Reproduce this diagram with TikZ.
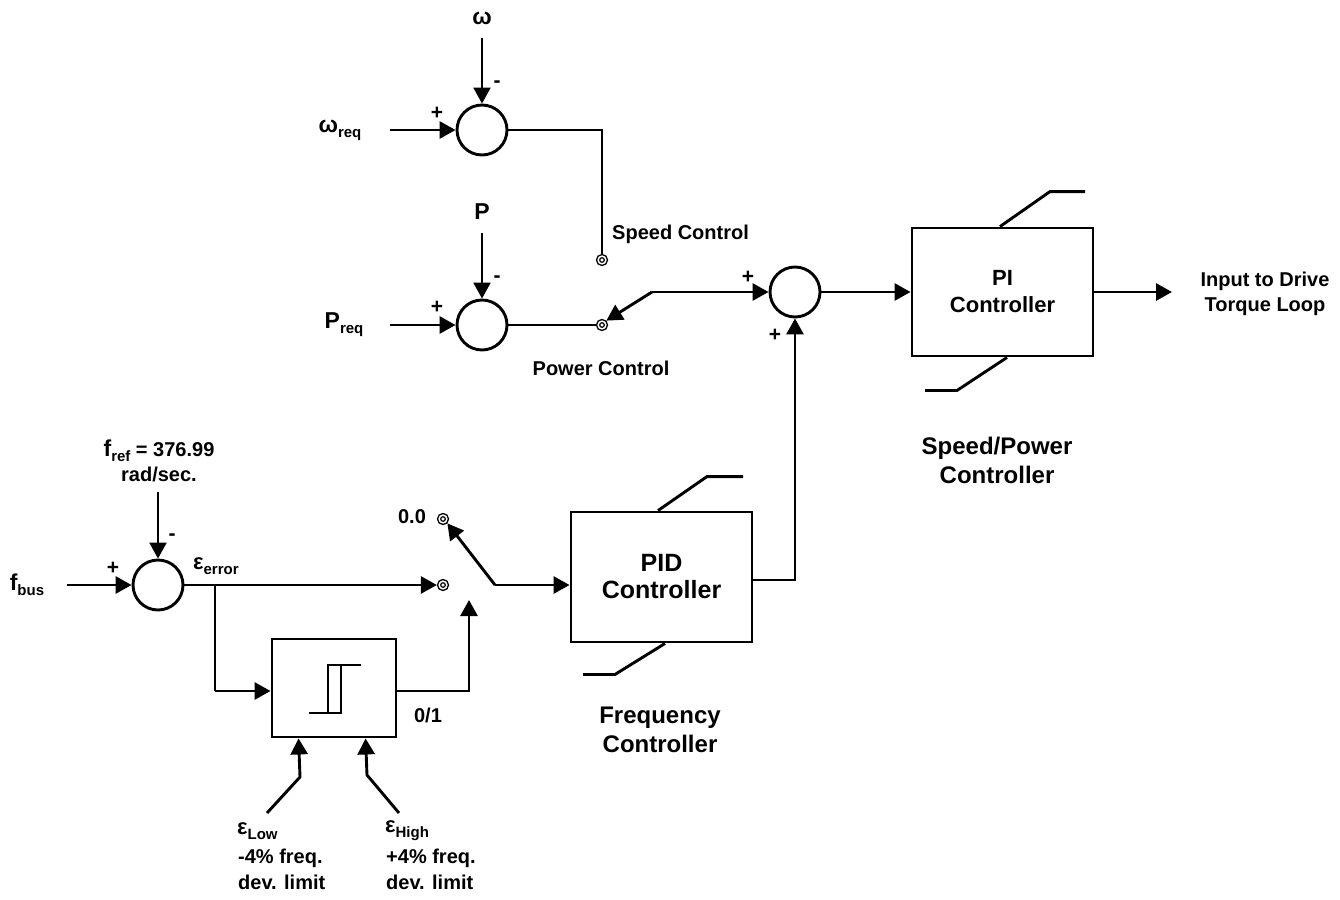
\documentclass[tikz,border=0pt]{standalone}
\usepackage{fontspec}
\setmainfont{Liberation Sans}
\usetikzlibrary{arrows.meta}
\newcommand\lowsub[1]{\raisebox{-0.45ex}{\fontsize{15}{15}\selectfont #1}}
\begin{document}
\begin{tikzpicture}[x=1pt,y=-1pt,
  sig/.style={line width=2.9pt},
  thin sig/.style={line width=2.2pt},
  arr/.style={sig,-{Triangle[length=16pt,width=17pt]}},
  tarr/.style={thin sig,-{Triangle[length=16pt,width=17pt]}},
  sumj/.style={circle,draw,line width=2.9pt,minimum size=50pt,inner sep=0pt},
  blk/.style={draw,line width=2.9pt,inner sep=0pt,font=\fontsize{24}{27}\selectfont\bfseries,align=center},
  term/.style={circle,draw,line width=1.3pt,minimum size=11pt,inner sep=0pt,
     path picture={\draw[line width=1.2pt] (path picture bounding box.center) circle (2.3pt);}},
  lbl/.style={font=\fontsize{20}{24.5}\selectfont\bfseries,inner sep=0pt},
  big/.style={font=\fontsize{24}{29}\selectfont\bfseries,align=center,inner sep=0pt},
  sign/.style={font=\fontsize{21}{21}\selectfont\bfseries,inner sep=0pt}
]
\useasboundingbox (0,0) rectangle (1340,899);

% ---------- speed loop ----------
\node[sumj] (s1) at (482,130) {};
\node[lbl,font=\fontsize{23}{24}\selectfont\bfseries] (om) at (482,18) {ω};
\coordinate (omA) at (482,38);
\node[lbl] (omreq) at (340,130) {{\fontsize{23}{24}\selectfont ω}\lowsub{req}};
\coordinate (omIn) at (390,130);
\draw[tarr] (omA) -- (s1.north);
\draw[arr] (omIn) -- (s1.west);
\node[sign] at (437,113) {+};
\node[sign] at (497,84) {-};
\node[term] (tspeed) at (602,260) {};
\draw[sig] (s1.east) -| (tspeed.north);
\node[lbl,anchor=west] (spdlbl) at (612,234) {Speed Control};

% ---------- power loop ----------
\node[sumj] (s2) at (482,325) {};
\node[lbl,font=\fontsize{23}{24}\selectfont\bfseries] (pl) at (482,212) {P};
\coordinate (pA) at (482,233);
\node[lbl] (preq) at (344,325) {{\fontsize{23}{24}\selectfont P}\lowsub{req}};
\coordinate (pIn) at (390,325);
\draw[tarr] (pA) -- (s2.north);
\draw[arr] (pIn) -- (s2.west);
\node[sign] at (437,307) {+};
\node[sign] at (497,279) {-};
\node[term] (tpower) at (602,325) {};
\draw[sig] (s2.east) -- (tpower.west);
\node[lbl] (pwrlbl) at (601,368) {Power Control};

% ---------- switch and PI ----------
\node[sumj] (s3) at (795,292) {};
\coordinate (sw1) at (652,292);
\draw[arr] (sw1) -- (tpower.north east);
\draw[arr] (sw1) -- (s3.west);
\node[sign] at (748,277) {+};
\node[sign] at (775,335) {+};
\node[blk,minimum width=181pt,minimum height=128pt] (pi) at (1002.5,292) {\fontsize{22}{27}\selectfont PI\\\fontsize{22}{27}\selectfont Controller};
\draw[sig] ([xshift=-2.5pt]pi.north) -- ++(50,-35) -- ++(35,0);
\draw[sig] ([xshift=4.5pt]pi.south) -- ++(-50,33) -- ++(-32,0);
\draw[arr] (s3.east) -- (pi.west);
\coordinate (out) at (1172,292);
\draw[arr] (pi.east) -- (out);
\node[lbl,align=center] (drv) at (1265,294) {Input to Drive\\Torque Loop};
\node[big] (splbl) at (997,460) {Speed/Power\\Controller};

% ---------- frequency loop ----------
\node[sumj] (s4) at (158,585) {};
\node[lbl,align=center] (fref) at (159,461) {{\fontsize{23}{24}\selectfont f}\lowsub{ref} = 376.99\\rad/sec.};
\coordinate (fA) at (158,492);
\draw[tarr] (fA) -- (s4.north);
\node[lbl] (fbus) at (27,585) {{\fontsize{23}{24}\selectfont f}\lowsub{bus}};
\coordinate (fIn) at (67,585);
\draw[arr] (fIn) -- (s4.west);
\node[sign] at (113,568) {+};
\node[sign] at (172,537) {-};
\node[lbl,anchor=west] (eerr) at (193,566) {{\fontsize{22}{24}\selectfont ε}\lowsub{error}};

\node[term] (terr) at (443,585) {};
\node[term] (tzero) at (443,519) {};
\node[lbl] (zero) at (412,517) {0.0};
\draw[arr] (s4.east) -- (terr.west);

\node[blk,minimum width=181pt,minimum height=130pt] (pid) at (661.5,577) {\fontsize{25}{29}\selectfont PID\\\fontsize{25}{29}\selectfont Controller};
\draw[sig] ([xshift=-3.5pt]pid.north) -- ++(49,-34) -- ++(36,0);
\draw[sig] ([xshift=3.5pt]pid.south) -- ++(-50,31) -- ++(-32,0);
\coordinate (sw2) at (495,585);
\draw[arr] (sw2) -- (tzero.south east);
\draw[arr] (sw2) -- (pid.west |- sw2);
\draw[arr] (pid.east |- 0,580) -| (s3.south);
\node[big] (frlbl) at (660,730) {Frequency\\Controller};

% ---------- hysteresis block ----------
\node[blk,minimum width=124pt,minimum height=98pt] (hy) at (334,688) {};
\draw[line width=2.6pt] (309,713) -- (341,713) -- (341,665);
\draw[line width=2.6pt] (328,713) -- (328,665) -- (361,665);
\coordinate (br) at (215,585);
\draw[sig] (br) -- (215,691) coordinate (brc);
\draw[arr] (brc) -- (brc -| hy.west);
\coordinate (swin) at (469,600);
\draw[arr] (hy.east |- 0,691) -| (swin);
\node[lbl] (o1) at (428,715) {0/1};

\coordinate (lowA) at (267,813);
\coordinate (highA) at (399,813);
\draw[arr] (lowA) -- (300,777) -- ([xshift=28pt]hy.south west);
\draw[arr] (highA) -- (367,775) -- ([xshift=95pt]hy.south west);
\node[lbl,anchor=west] (lowe) at (237,831) {{\fontsize{22}{24}\selectfont ε}\lowsub{Low}};
\node[lbl,anchor=west] (lowl) at (238,858) {-4\% freq.};
\node[lbl,anchor=west] (lowd) at (238,882) {dev. limit};
\node[lbl,anchor=west] (highe) at (385,831) {{\fontsize{22}{24}\selectfont ε}\lowsub{High}};
\node[lbl,anchor=west] (highl) at (386,858) {+4\% freq.};
\node[lbl,anchor=west] (highd) at (386,882) {dev. limit};
\end{tikzpicture}
\end{document}
